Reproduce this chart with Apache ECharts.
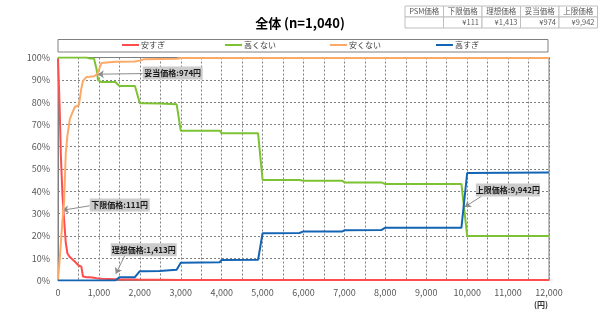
<!DOCTYPE html>
<html>
<head>
<meta charset="utf-8">
<script src="https://cdn.jsdelivr.net/npm/echarts@6/dist/echarts.min.js"></script>
<style>
  html, body { margin: 0; padding: 0; background: #ffffff; }
  #chart { width: 600px; height: 321px; }
</style>
</head>
<body>
<div id="chart"></div>
<script>
/* 価格（円）の共通サンプル点 */
var PRICES = [0, 40, 70, 110, 150, 190, 230, 290, 410, 510, 570, 610, 700, 770, 880, 940, 980, 1060, 1100, 1400,
  1500, 1880, 2000, 2100, 2480, 2520, 2900, 3000, 3950, 4000, 4890, 5000, 5900, 6000, 6950, 7000, 7900, 8000, 9860, 10000, 12000];

/* 各回答の累積比率（%） */
var NAMES = ["安すぎ", "高くない", "安くない", "高すぎ"];
var YASUSUGI = [99.5, 78, 56, 38, 27, 17, 12.1, 10.5, 8.5, 6.6, 6.3, 1.8, 1.5, 1.5, 1.2, 1.0, 1.0, 0.8, 0.8, 0.6,
  0.5, 0.4, 0.3, 0.3, 0.3, 0.3, 0.2, 0.2, 0.2, 0.2, 0.2, 0.2, 0.2, 0.2, 0.2, 0.2, 0.2, 0.2, 0.2, 0.2, 0.2];
var TAKAKUNAI = [100, 100, 100, 100, 100, 100, 100, 100, 100, 100, 100, 100, 100, 99.6, 99.5, 95, 89.8, 89, 89, 89,
  87.2, 87.2, 79.5, 79.5, 79.4, 79, 79, 67.2, 67.2, 66, 66, 45.1, 45.1, 44.7, 44.7, 44, 44, 43.3, 43.3, 20, 20];
var YASUKUNAI = [0, 9, 17, 27, 36, 57, 65, 72.5, 77.8, 78.6, 86, 89.5, 91.3, 91.4, 91.6, 92.3, 93.5, 97.5, 98, 98.1,
  98.1, 98.2, 98.6, 99.2, 99.3, 99.3, 99.4, 99.8, 99.8, 99.8, 99.8, 99.8, 99.8, 99.8, 99.8, 99.8, 99.8, 99.8, 99.8, 99.8, 99.8];
var TAKASUGI = [0, 0, 0, 0, 0, 0, 0, 0, 0, 0, 0, 0, 0, 0, 0, 0, 0, 0, 0, 0,
  1.5, 1.5, 4.2, 4.2, 4.3, 4.8, 4.8, 8, 8.2, 9.2, 9.3, 21.2, 21.3, 22, 22, 22.5, 22.6, 23.7, 23.7, 48.2, 48.4];

/* PSM 指標 */
var PSM_LABELS = ["下限価格", "理想価格", "妥当価格", "上限価格"];
var PSM_PRICES = [111, 1413, 974, 9942];

var X_TICKS = [0, 1000, 2000, 3000, 4000, 5000, 6000, 7000, 8000, 9000, 10000, 11000, 12000];

var COLORS = ["#ff4d4d", "#7cc233", "#fcaa66", "#1464b4"];
var FONT = "Noto Sans CJK JP";

function fmt(n) { return n.toLocaleString("en-US"); }

/* 吹き出しの配置（データ座標）：箱の中心、矢印の始点、矢印の先端の高さ */
var CALLOUTS = [
  { box: [1509, 33.9], size: [60, 13], from: [775, 33.5], tipY: 31.5 },
  { box: [2095, 13.8], size: [66, 13], from: [1631, 11.1], tipY: 3 },
  { box: [2804, 93.1], size: [60, 13], from: [2071, 92.8], tipY: 92.5 },
  { box: [10995, 40.6], size: [64, 13], from: [10359, 37.9], tipY: 33 }
];

var chart = echarts.init(document.getElementById("chart"), null, { renderer: "canvas" });

var values = [YASUSUGI, TAKAKUNAI, YASUKUNAI, TAKASUGI];
var series = NAMES.map(function (name, i) {
  return {
    name: name,
    type: "line",
    symbol: "none",
    data: PRICES.map(function (p, j) { return [p, values[i][j]]; }),
    lineStyle: { color: COLORS[i], width: 2 },
    itemStyle: { color: COLORS[i] },
    z: 3 + i
  };
});

/* 吹き出し用の補助系列 */
var marks = [], arrows = [];
PSM_LABELS.forEach(function (lab, i) {
  var c = CALLOUTS[i];
  marks.push({
    coord: c.box,
    symbol: "rect",
    symbolSize: c.size,
    itemStyle: { color: "#cccccc" },
    label: {
      show: true, position: "inside",
      formatter: lab + ":" + fmt(PSM_PRICES[i]) + "円",
      fontSize: 8, fontWeight: "bold", color: "#1a1a1a", fontFamily: FONT
    }
  });
  arrows.push([
    { coord: c.from, symbol: "none" },
    { coord: [PSM_PRICES[i], c.tipY], symbol: "arrow" }
  ]);
});
series.push({
  name: "annot",
  type: "line",
  data: [],
  z: 10,
  markLine: {
    silent: true,
    symbolSize: 6,
    label: { show: false },
    lineStyle: { color: "#8c8c8c", width: 1, type: "solid" },
    data: arrows
  },
  markPoint: { silent: true, data: marks }
});

/* 右上の PSM 表 */
var table = [];
var heads = ["PSM価格"].concat(PSM_LABELS);
var cells = [""].concat(PSM_PRICES.map(function (p) { return "¥" + fmt(p); }));
var tx = 405, tw = 38.5, ty = 6, th = 11;
heads.forEach(function (h, i) {
  table.push({ type: "rect", shape: { x: tx + i * tw, y: ty, width: tw, height: th },
    style: { fill: "#fff", stroke: "#bfbfbf", lineWidth: 1 } });
  table.push({ type: "rect", shape: { x: tx + i * tw, y: ty + th, width: tw, height: th },
    style: { fill: "#fff", stroke: "#bfbfbf", lineWidth: 1 } });
  table.push({ type: "text", x: tx + i * tw + tw / 2, y: ty + th / 2,
    style: { text: h, fontSize: 7.5, fill: "#595959", fontFamily: FONT, align: "center", verticalAlign: "middle" } });
  table.push({ type: "text", x: tx + (i + 1) * tw - 3, y: ty + th * 1.5,
    style: { text: cells[i], fontSize: 7.5, fill: "#595959", fontFamily: FONT, align: "right", verticalAlign: "middle" } });
});

var legendLeft = [122, 225, 330, 436];

chart.setOption({
  animation: false,
  backgroundColor: "#ffffff",
  title: {
    text: "全体 (n=1,040)",
    left: "center",
    top: 12,
    textStyle: { fontSize: 13, fontWeight: "bold", color: "#000", fontFamily: FONT }
  },
  legend: NAMES.map(function (n, i) {
    return {
      data: [n], left: legendLeft[i], top: 41, padding: 0,
      icon: "rect", itemWidth: 17, itemHeight: 2, itemGap: 0,
      textStyle: { fontSize: 8, color: "#404040", fontFamily: FONT, padding: [0, 0, 0, -3] }
    };
  }),
  grid: { left: 58, right: 51, top: 57.5, bottom: 40.5, show: true, borderColor: "#808080", borderWidth: 1 },
  xAxis: {
    type: "value", min: 0, max: 12000, interval: 500,
    axisLine: { show: true, lineStyle: { color: "#808080" } },
    axisTick: { show: false },
    axisLabel: {
      margin: 8, fontSize: 9, color: "#595959", fontFamily: FONT,
      formatter: function (v) { return X_TICKS.indexOf(v) >= 0 ? fmt(v) : ""; }
    },
    splitLine: { show: true, lineStyle: { color: "#808080", type: [2, 2], width: 1 } }
  },
  yAxis: {
    type: "value", min: 0, max: 100, interval: 10,
    axisLine: { show: true, lineStyle: { color: "#808080" } },
    axisTick: { show: false },
    axisLabel: { margin: 8, fontSize: 9, color: "#595959", fontFamily: FONT, formatter: "{value}%" },
    splitLine: { show: true, lineStyle: { color: "#808080", type: [2, 2], width: 1 } }
  },
  graphic: [
    { type: "rect", shape: { x: 58, y: 39.5, width: 490, height: 12.5 },
      style: { fill: "none", stroke: "#808080", lineWidth: 1 }, z: -1 },
    { type: "text", x: 541, y: 305,
      style: { text: "(円)", fontSize: 8, fontWeight: "bold", fill: "#333", fontFamily: FONT, align: "center", verticalAlign: "middle" } },
    { type: "group", children: table }
  ],
  series: series
});
</script>
</body>
</html>
